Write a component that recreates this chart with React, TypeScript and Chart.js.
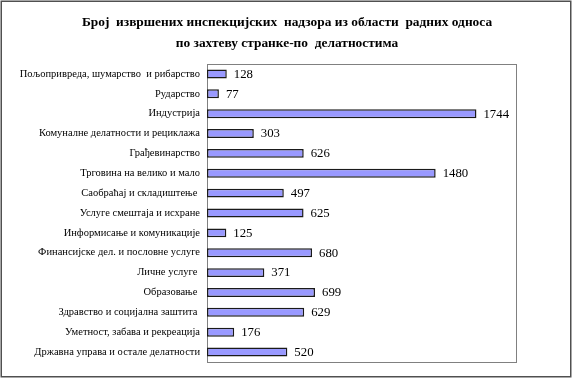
import React, { useEffect, useRef } from "react";
import { Chart, registerables } from "chart.js";

Chart.register(...registerables);

const titleLines = [
  "Број  извршених инспекцијских  надзора из области  радних односа",
  "по захтеву странке-по  делатностима",
];

const categories = [
  "Пољопривреда, шумарство  и рибарство",
  "Рударство",
  "Индустрија",
  "Комуналне делатности и рециклажа",
  "Грађевинарство",
  "Трговина на велико и мало",
  "Саобраћај и складиштење ",
  "Услуге смештаја и исхране",
  "Информисање и комуникације",
  "Финансијске дел. и пословне услуге",
  "Личне услуге ",
  "Образовање ",
  "Здравство и социјална заштита ",
  "Уметност, забава и рекреација",
  "Државна управа и остале делатности",
];

const values = [128, 77, 1744, 303, 626, 1480, 497, 625, 125, 680, 371, 699, 629, 176, 520];

const xMin = 0;
const xMax = 2000;

const SERIF = '"Liberation Serif", "Times New Roman", serif';

const framePlugin = {
  id: "frame",
  beforeDraw(chart: any) {
    const { ctx, width, height, chartArea } = chart;
    ctx.save();
    ctx.fillStyle = "#ffffff";
    ctx.fillRect(0, 0, width, height);
    ctx.strokeStyle = "#808080";
    ctx.lineWidth = 1;
    ctx.strokeRect(
      Math.round(chartArea.left) + 0.5,
      Math.round(chartArea.top) + 0.5,
      Math.round(chartArea.right - chartArea.left),
      Math.round(chartArea.bottom - chartArea.top)
    );
    ctx.strokeStyle = "#505050";
    ctx.lineWidth = 1.5;
    ctx.strokeRect(1.25, 1.25, width - 2.5, height - 2.5);
    ctx.fillStyle = "#000000";
    ctx.font = "bold 13.4px " + SERIF;
    ctx.textAlign = "center";
    ctx.textBaseline = "middle";
    titleLines.forEach((line, i) => {
      ctx.fillText(line, width / 2 + 1, 23 + i * 20.5);
    });
    ctx.restore();
  },
};

const valueLabelPlugin = {
  id: "valueLabels",
  afterDatasetsDraw(chart: any) {
    const { ctx } = chart;
    const meta = chart.getDatasetMeta(0);
    ctx.save();
    ctx.fillStyle = "#000000";
    ctx.font = "12.8px " + SERIF;
    ctx.textAlign = "left";
    ctx.textBaseline = "middle";
    meta.data.forEach((bar: any, i: number) => {
      ctx.fillText(String(values[i]), bar.x + 7, bar.y + 0.5);
    });
    ctx.restore();
  },
};

export default function App() {
  const canvasRef = useRef<HTMLCanvasElement | null>(null);

  useEffect(() => {
    if (!canvasRef.current) return;
    const chart = new Chart(canvasRef.current, {
      type: "bar",
      data: {
        labels: categories,
        datasets: [
          {
            data: values,
            backgroundColor: "#9999FF",
            borderColor: "#1a1a1a",
            borderWidth: 1.5,
            borderSkipped: false,
            barPercentage: 0.45,
            categoryPercentage: 1,
          },
        ],
      },
      options: {
        indexAxis: "y",
        animation: false,
        responsive: false,
        maintainAspectRatio: false,
        layout: { padding: { top: 64, right: 56, bottom: 16, left: 0 } },
        plugins: {
          legend: { display: false },
          tooltip: { enabled: false },
          title: { display: false },
        },
        scales: {
          x: {
            display: false,
            min: xMin,
            max: xMax,
          },
          y: {
            grid: { display: false, drawTicks: false },
            border: { display: false },
            ticks: {
              color: "#000000",
              padding: 7,
              autoSkip: false,
              font: { family: SERIF, size: 10.5 },
            },
            afterFit(scale: any) {
              scale.width = 207;
            },
          },
        },
      },
      plugins: [framePlugin, valueLabelPlugin],
    });
    return () => chart.destroy();
  }, []);

  return (
    <div style={{ position: "fixed", left: 0, top: 0, width: 572, height: 378 }}>
      <canvas ref={canvasRef} width={572} height={378} style={{ width: 572, height: 378, display: "block" }} />
    </div>
  );
}
